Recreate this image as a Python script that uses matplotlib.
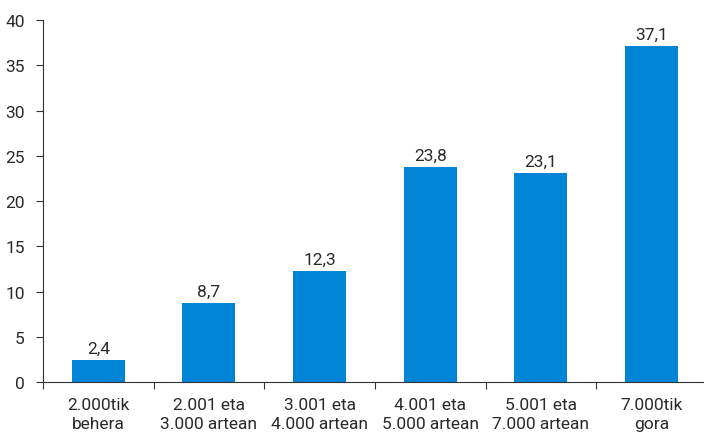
import matplotlib
matplotlib.use("Agg")
import matplotlib.pyplot as plt
import numpy as np

categories = ["2.000tik\nbehera", "2.001 eta\n3.000 artean", "3.001 eta\n4.000 artean",
              "4.001 eta\n5.000 artean", "5.001 eta\n7.000 artean", "7.000tik\ngora"]
values = [2.4, 8.7, 12.3, 23.8, 23.1, 37.1]
value_labels = ["2,4", "8,7", "12,3", "23,8", "23,1", "37,1"]
y_ticks = [0, 5, 10, 15, 20, 25, 30, 35, 40]

plt.rcParams["font.family"] = ["Roboto", "DejaVu Sans"]
fig = plt.figure(figsize=(7.04, 4.35), dpi=100)
ax = fig.add_axes([0.061, 0.1195, 0.943, 0.832])

x = np.arange(len(categories))
bars = ax.bar(x, values, width=0.48, color="#0084d6", zorder=2)
for b, lab in zip(bars, value_labels):
    ax.annotate(lab, (b.get_x() + b.get_width() / 2, b.get_height()),
                xytext=(0, 3), textcoords="offset points",
                ha="center", va="bottom", fontsize=12.5, color="#2a2a2a")

ax.set_xlim(-0.5, len(categories) - 0.5)
ax.set_ylim(0, 40)
ax.set_yticks(y_ticks)
ax.set_yticklabels([str(t) for t in y_ticks], fontsize=12.5, color="#2a2a2a")

# category boundaries get the tick marks, labels sit centred in between
ax.set_xticks(np.arange(len(categories) + 1) - 0.5)
ax.set_xticklabels([])
ax.set_xticks(x, minor=True)
ax.set_xticklabels(categories, minor=True, fontsize=12.5, color="#2a2a2a", linespacing=1.35)
ax.tick_params(axis="x", which="minor", length=0, pad=11)
ax.tick_params(axis="x", which="major", length=5, color="#333333", direction="out")
ax.tick_params(axis="y", length=5, color="#333333", pad=8)

for side in ["top", "right"]:
    ax.spines[side].set_visible(False)
ax.spines["left"].set_color("#333333")
ax.spines["bottom"].set_color("#333333")

fig.savefig("out.png", dpi=100)
